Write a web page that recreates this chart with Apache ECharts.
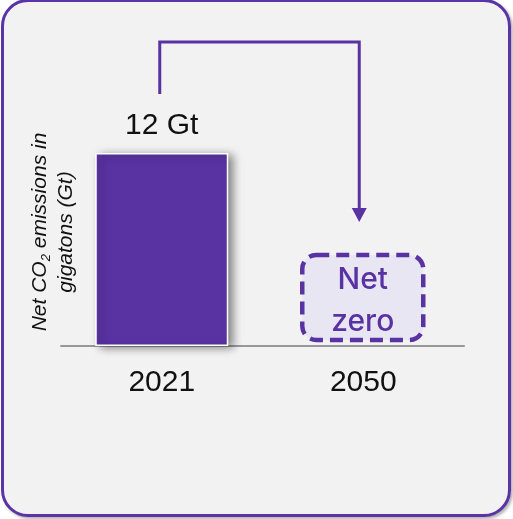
<!DOCTYPE html>
<html>
<head>
<meta charset="utf-8">
<script src="https://cdn.jsdelivr.net/npm/echarts@6/dist/echarts.min.js"></script>
<style>
  html, body { margin: 0; padding: 0; background: #ffffff; width: 513px; height: 519px; overflow: hidden; }
  #card {
    position: absolute; left: 1px; top: -1px; width: 510px; height: 518px;
    box-sizing: border-box; background: #f2f2f2;
    border: 3px solid #5a33a6; border-radius: 27px;
    box-shadow: 2px 2px 3px rgba(0,0,0,0.3);
    overflow: hidden;
  }
  #chart { position: absolute; left: -4px; top: -2px; width: 513px; height: 519px; }
</style>
</head>
<body>
<div id="card"><div id="chart"></div></div>
<script>
// Net CO2 emissions: today versus the 2050 target
const years = ['2021', '2050'];
const emissions = [12, 0];          // gigatons
const valueLabel = '12 Gt';
const targetLabel = ['Net', 'zero'];
const axisTitle = ['Net CO', '2', ' emissions in', 'gigatons (Gt)'];

const purple = '#5a33a3';
const chart = echarts.init(document.getElementById('chart'));

chart.setOption({
  animation: false,
  grid: { left: 61, right: 49, top: 153, bottom: 173 },
  xAxis: {
    type: 'category',
    data: years,
    axisTick: { show: false },
    axisLine: { lineStyle: { color: '#999999', width: 2 } },
    axisLabel: { fontFamily: 'Liberation Sans', fontSize: 30, color: '#111111', margin: 22 }
  },
  yAxis: {
    type: 'value', min: 0, max: 12,
    show: false
  },
  series: [{
    type: 'bar',
    data: emissions.map((v, i) => i === 0 ? v : { value: v, itemStyle: { opacity: 0 }, label: { show: false } }),
    barWidth: '66%',
    itemStyle: {
      color: purple, borderColor: '#ffffff', borderWidth: 1.5,
      shadowColor: 'rgba(0,0,0,0.5)', shadowBlur: 9, shadowOffsetX: 5, shadowOffsetY: 2
    },
    label: {
      show: true, position: 'top', distance: 12,
      formatter: () => valueLabel,
      fontFamily: 'Liberation Sans', fontSize: 30, color: '#111111'
    }
  }]
});

// Annotations placed from the axes' own scales
const p0 = chart.convertToPixel({ xAxisIndex: 0, yAxisIndex: 0 }, [years[0], emissions[0]]);
const p1 = chart.convertToPixel({ xAxisIndex: 0, yAxisIndex: 0 }, [years[1], emissions[1]]);
const xa = p0[0] - 2, xb = p1[0] - 4;
const topY = 42, startY = 94, headTip = 222, headLen = 14;

const boxW = 121, boxH = 85;
const boxCx = p1[0] - 0.5, boxBottom = p1[1] - 6;

chart.setOption({
  graphic: [
    {
      type: 'polyline',
      shape: { points: [[xa, startY], [xa, topY], [xb, topY], [xb, headTip - headLen + 1]] },
      style: { stroke: purple, lineWidth: 3, fill: null, lineJoin: 'miter' }
    },
    {
      type: 'polygon',
      shape: { points: [[xb - 7.5, headTip - headLen], [xb + 7.5, headTip - headLen], [xb, headTip]] },
      style: { fill: purple }
    },
    {
      type: 'rect',
      shape: { x: boxCx - boxW / 2, y: boxBottom - boxH, width: boxW, height: boxH, r: 14 },
      style: { fill: '#e9e6f3', stroke: purple, lineWidth: 4.5, lineDash: [13, 7] }
    },
    {
      type: 'text',
      x: boxCx, y: boxBottom - boxH / 2 + 3,
      style: {
        text: targetLabel.join('\n'),
        align: 'center', verticalAlign: 'middle',
        fontFamily: 'Inter', fontWeight: 500, fontSize: 30, lineHeight: 42, fill: purple
      }
    },
    {
      type: 'text',
      x: 53, y: 232,
      rotation: Math.PI / 2,
      style: {
        text: '{n|' + axisTitle[0] + '}{s|' + axisTitle[1] + '}{n|' + axisTitle[2] + '}\n{n|' + axisTitle[3] + '}',
        align: 'center', verticalAlign: 'middle',
        fill: '#111111',
        rich: {
          n: { fontFamily: 'Liberation Sans', fontStyle: 'italic', fontSize: 21, lineHeight: 26, fill: '#111111' },
          s: { fontFamily: 'Liberation Sans', fontStyle: 'italic', fontSize: 13, lineHeight: 26, padding: [12, 0, 0, 0], fill: '#111111' }
        }
      }
    }
  ]
});
</script>
</body>
</html>
